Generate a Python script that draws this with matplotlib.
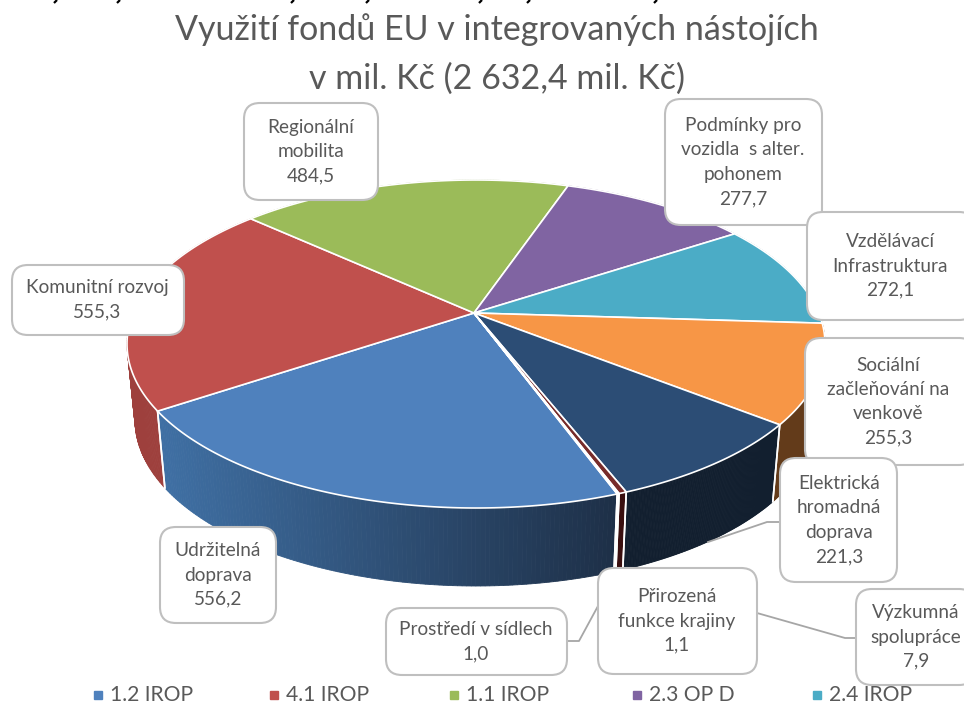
import numpy as np
import matplotlib.pyplot as plt
from matplotlib.patches import FancyBboxPatch, Polygon
from matplotlib.colors import to_rgb

plt.rcParams['font.family'] = ['Lato', 'DejaVu Sans']

title = "Využití fondů EU v integrovaných nástojích\nv mil. Kč (2 632,4 mil. Kč)"
values = [556.2, 555.3, 484.5, 277.7, 272.1, 255.3, 221.3, 7.9, 1.1, 1.0]
names = ["Udržitelná\ndoprava", "Komunitní rozvoj", "Regionální\nmobilita",
         "Podmínky pro\nvozidla  s alter.\npohonem", "Vzdělávací\nInfrastruktura",
         "Sociální\nzačleňování na\nvenkově", "Elektrická\nhromadná\ndoprava",
         "Výzkumná\nspolupráce", "Přirozená\nfunkce krajiny", "Prostředí v sídlech"]
legend_names = ["1.2 IROP", "4.1 IROP", "1.1 IROP", "2.3 OP D", "2.4 IROP"]
top_colors = ["#4F81BD", "#C0504D", "#9BBB59", "#8064A2", "#4BACC6",
              "#F79646", "#2C4D75", "#772C2A", "#5F7530", "#4D3B62"]
wall_colors = ["#3F6FA3", "#9E403D", "#7F9A49", "#6A5386", "#3E8DA3",
               "#633B1A", "#121F2F", "#3A0F0F", "#2E3A18", "#261D31"]

# label boxes: x0, y0, x1, y1 in pixels, same order as values
boxes = [(160, 527, 276, 623), (12, 265, 184, 335), (244, 103, 378, 200),
         (665, 99, 822, 225), (807, 212, 975, 320), (805, 338, 975, 465),
         (780, 458, 897, 582), (856, 589, 975, 685), (598, 568, 757, 674),
         (386, 608, 567, 675)]
# text centre differs a bit from box centre where the box runs off the picture
text_x = [218, 97, 311, 743, 890, 888, 839, 916, 677, 476]
leaders = [[(708, 542), (767, 522), (780, 522)],
           [(757, 613), (845, 638), (856, 638)],
           [(567, 641), (579, 641), (598, 606)]]
legend_x = [98, 274, 454, 637, 817]
# tails of a cropped line of text at the very top of the picture
tail_x = [55, 118, 292, 367, 480, 528, 655]

# pie geometry in pixels
cx, cy, rx, ry = 476, 344, 349, 164
cy2, rx2, ry2 = 420, 341, 166
pie_c = (474, 313)
p = -0.0954j
start = 70.2


def unit(deg):
    # perspective: the pie centre sits above the middle of the ellipse
    z = np.exp(1j * np.radians(deg))
    return (z + p) / (1 + np.conj(p) * z)


def rim(deg):
    w = unit(deg)
    return cx + rx * w.real, cy + ry * w.imag


def rim2(deg):
    w = unit(deg)
    return cx + rx2 * w.real, cy2 + ry2 * w.imag


fig = plt.figure(figsize=(9.64, 7.04), dpi=100)
ax = fig.add_axes([0, 0, 1, 1])
ax.set_xlim(0, 964)
ax.set_ylim(704, 0)
ax.axis('off')

angles = start + np.concatenate([[0], np.cumsum(values)]) / sum(values) * 360

# walls first, the tops cover whatever is behind them
c0, c1 = np.array(to_rgb(wall_colors[0])), np.array(to_rgb("#1E3048"))
for i in range(len(values)):
    a = np.linspace(angles[i], angles[i + 1], 120)
    tx, ty = rim(a)
    bx, by = rim2(a)
    for k in range(len(a) - 1):
        col = wall_colors[i]
        if i == 0:
            # side of the biggest slice runs from lighter to darker
            t = np.clip((tx[k] - 165) / (615 - 165), 0, 1)
            col = c0 * (1 - t) + c1 * t
        ax.add_patch(Polygon([(tx[k], ty[k]), (tx[k + 1], ty[k + 1]), (bx[k + 1], by[k + 1]), (bx[k], by[k])],
                             fc=col, ec=col, lw=0.6, zorder=2))
    ax.plot([tx[0], bx[0]], [ty[0], by[0]], color='white', lw=1.2, zorder=3)
    ax.plot([tx[-1], bx[-1]], [ty[-1], by[-1]], color='white', lw=1.2, zorder=3)

for i in range(len(values)):
    a = np.linspace(angles[i], angles[i + 1], 120)
    tx, ty = rim(a)
    ax.add_patch(Polygon([pie_c] + list(zip(tx, ty)), fc=top_colors[i], ec='white', lw=1.2, zorder=4, joinstyle='round'))

for line in leaders:
    xs, ys = zip(*line)
    ax.plot(xs, ys, color='#A6A6A6', lw=1.3, zorder=5)

for i in [2, 3, 4, 5, 6, 1, 0, 7, 8, 9]:
    x0, y0, x1, y1 = boxes[i]
    ax.add_patch(FancyBboxPatch((x0, y0), x1 - x0, y1 - y0, boxstyle="round,pad=0,rounding_size=16",
                                fc='white', ec='#BFBFBF', lw=1.5, zorder=6 + i * 0.01))
    label = names[i] + "\n" + f"{values[i]:.1f}".replace('.', ',')
    ax.text(text_x[i], (y0 + y1) / 2, label, ha='center', va='center', ma='center', fontsize=13.7, color='#595959',
            linespacing=1.52, zorder=7)

ax.text(497, 54, title, ha='center', va='center', ma='center', fontsize=24.5, color='#595959', linespacing=1.62, zorder=7)

for i, name in enumerate(legend_names):
    ax.plot(legend_x[i], 695, 's', ms=5.5, color=top_colors[i], zorder=7)
    ax.text(legend_x[i] + 12, 695, name, ha='left', va='center', fontsize=15.2, color='#595959', zorder=7)

for x in tail_x:
    ax.plot([x + 2, x - 1], [0, 3], color='black', lw=1.6, solid_capstyle='butt', zorder=7)

fig.savefig("out.png", dpi=100)
